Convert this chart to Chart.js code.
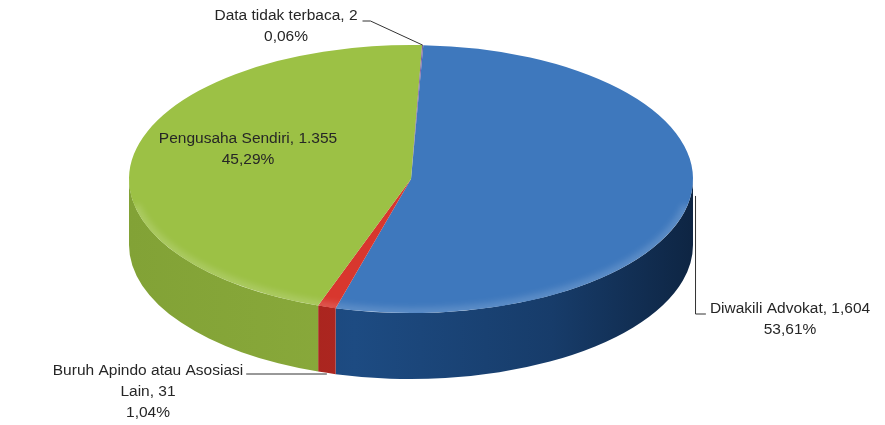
<!DOCTYPE html>
<html>
<head>
<meta charset="utf-8">
<script src="https://cdn.jsdelivr.net/npm/chart.js@4"></script>
<style>
  html, body { margin: 0; padding: 0; background: #ffffff; }
  canvas { display: block; }
</style>
</head>
<body>
<canvas id="chart" width="885" height="425"></canvas>
<script>
// Perkara menurut pihak yang mewakili
const categories = ['Diwakili Advokat', 'Buruh Apindo atau Asosiasi Lain', 'Pengusaha Sendiri', 'Data tidak terbaca'];
const counts = [1604, 31, 1355, 2];
const countLabels = ['1,604', '31', '1.355', '2'];
const percentLabels = ['53,61%', '1,04%', '45,29%', '0,06%'];

// Colours of the top face and of the outer wall for each slice
const topColors = ['#3e78bd', '#d8372e', '#9cc145', '#8064a2'];
const wallColors = [
  ['#1d4b82', '#173c6a', '#0e2543'],
  ['#ad2620', '#9e221c', '#8a1d17'],
  ['#89a93b', '#82a236', '#6f8c2b'],
  ['#66508a', '#5a4679', '#4d3c68']
];

// Geometry of the tilted disc (screen pixels)
const disc = { cx: 411, cy: 179, rx: 282, ry: 134, depth: 66 };

// Where each data label sits (centre of its text block) and how its leader runs
const labelLayout = [
  { x: 790, y: 309, leader: 'down' },
  { x: 148, y: 371, leader: 'wall' },
  { x: 248, y: 139, leader: 'none' },
  { x: 286, y: 16, leader: 'top' }
];
const labelFont = '15.5px "Liberation Sans", Arial, sans-serif';
const labelColor = '#262626';
const lineHeight = 21;
const wrapWidth = 200;

function ellipsePoint(angle, dy) {
  return {
    x: disc.cx + disc.rx * Math.cos(angle),
    y: disc.cy + disc.ry * Math.sin(angle) + (dy || 0)
  };
}

function wrapText(ctx, text) {
  const words = text.split(' ');
  const lines = [];
  let cur = '';
  words.forEach(w => {
    const test = cur ? cur + ' ' + w : w;
    if (cur && ctx.measureText(test).width > wrapWidth) {
      lines.push(cur);
      cur = w;
    } else {
      cur = test;
    }
  });
  if (cur) lines.push(cur);
  return lines;
}

function drawWalls(ctx, arcs) {
  arcs.forEach((arc, i) => {
    const s = arc.startAngle, e = arc.endAngle;
    for (let k = -1; k <= 2; k++) {
      const lo = Math.max(s, 2 * Math.PI * k);
      const hi = Math.min(e, 2 * Math.PI * k + Math.PI);
      if (hi <= lo) continue;
      const g = ctx.createLinearGradient(disc.cx - disc.rx, 0, disc.cx + disc.rx, 0);
      const c = wallColors[i];
      g.addColorStop(0, c[1]);
      g.addColorStop(0.4, c[0]);
      g.addColorStop(0.75, c[1]);
      g.addColorStop(1, c[2]);
      ctx.beginPath();
      ctx.ellipse(disc.cx, disc.cy, disc.rx, disc.ry, 0, lo, hi, false);
      ctx.ellipse(disc.cx, disc.cy + disc.depth, disc.rx, disc.ry, 0, hi, lo, true);
      ctx.closePath();
      ctx.fillStyle = g;
      ctx.fill();
    }
  });
}

// Soft light band along the front rim of the top face
function drawRim(ctx) {
  ctx.save();
  ctx.beginPath();
  ctx.ellipse(disc.cx, disc.cy, disc.rx, disc.ry, 0, 0, Math.PI * 2);
  ctx.clip();
  ctx.filter = 'blur(3px)';
  ctx.beginPath();
  ctx.ellipse(disc.cx, disc.cy, disc.rx, disc.ry, 0, 0.2, Math.PI - 0.2);
  ctx.strokeStyle = 'rgba(255,255,255,0.16)';
  ctx.lineWidth = 10;
  ctx.stroke();
  ctx.restore();
}

const discPlugin = {
  id: 'disc3d',
  beforeDatasetsDraw(chart) {
    const ctx = chart.ctx;
    const arcs = chart.getDatasetMeta(0).data;
    drawWalls(ctx, arcs);
    const a0 = arcs[0];
    const R = a0.outerRadius;
    ctx.save();
    ctx.translate(disc.cx, disc.cy);
    ctx.scale(disc.rx / R, disc.ry / R);
    ctx.translate(-a0.x, -a0.y);
  },
  afterDatasetsDraw(chart) {
    const ctx = chart.ctx;
    ctx.restore();
    drawRim(ctx);
    const arcs = chart.getDatasetMeta(0).data;
    ctx.save();
    ctx.font = labelFont;
    ctx.fillStyle = labelColor;
    ctx.strokeStyle = '#333333';
    ctx.lineWidth = 1;
    ctx.textAlign = 'center';
    ctx.textBaseline = 'middle';
    arcs.forEach((arc, i) => {
      const lay = labelLayout[i];
      const lines = wrapText(ctx, categories[i] + ', ' + countLabels[i]);
      lines.push(percentLabels[i]);
      lines.forEach((ln, j) => ctx.fillText(ln, lay.x, lay.y + j * lineHeight));
      const w0 = ctx.measureText(lines[0]).width;
      const mid = (arc.startAngle + arc.endAngle) / 2;
      ctx.beginPath();
      if (lay.leader === 'down') {
        const p = ellipsePoint(mid);
        const left = lay.x - w0 / 2 - 4;
        ctx.moveTo(p.x + 6, p.y - 4);
        ctx.lineTo(p.x + 6, lay.y + 5);
        ctx.lineTo(left, lay.y + 5);
      } else if (lay.leader === 'wall') {
        const p = ellipsePoint(mid, disc.depth);
        const right = lay.x + w0 / 2 + 3;
        ctx.moveTo(right, lay.y + 3);
        ctx.lineTo(p.x, lay.y + 3);
      } else if (lay.leader === 'top') {
        const p = ellipsePoint(mid);
        const right = lay.x + w0 / 2 + 5;
        ctx.moveTo(right, lay.y + 5);
        ctx.lineTo(right + 8, lay.y + 5);
        ctx.lineTo(p.x, p.y);
      }
      ctx.stroke();
    });
    ctx.restore();
  }
};

new Chart(document.getElementById('chart'), {
  type: 'pie',
  data: {
    labels: categories,
    datasets: [{
      data: counts,
      backgroundColor: topColors,
      borderWidth: 0,
      hoverOffset: 0,
      clip: false
    }]
  },
  options: {
    responsive: false,
    animation: false,
    events: [],
    rotation: 2.5,
    layout: { padding: 20 },
    plugins: {
      legend: { display: false },
      tooltip: { enabled: false }
    }
  },
  plugins: [discPlugin]
});
</script>
</body>
</html>
